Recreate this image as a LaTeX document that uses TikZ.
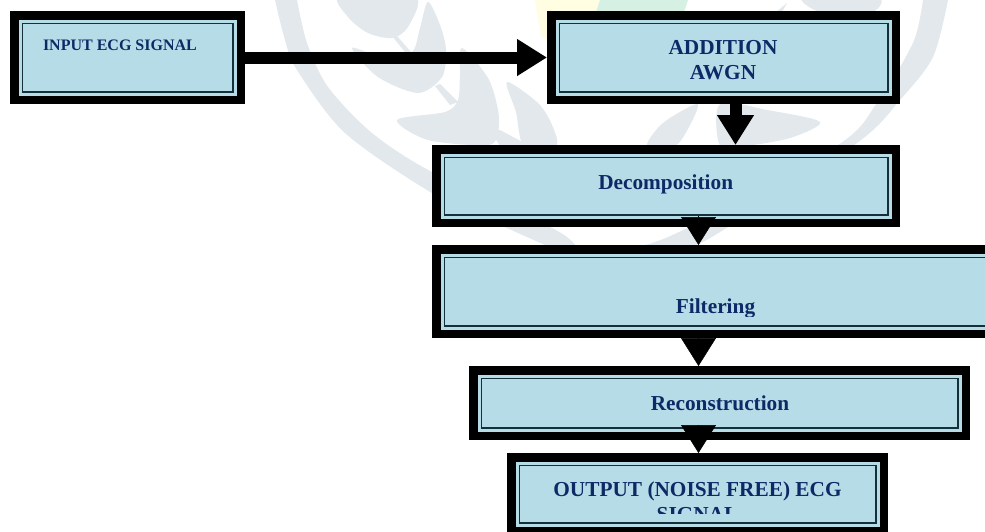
\documentclass[tikz,border=0pt]{standalone}
\usepackage{fontspec}
\setmainfont{Liberation Serif}
\usetikzlibrary{arrows.meta}
\definecolor{boxblue}{HTML}{B6DCE8}
\definecolor{lineink}{HTML}{14303A}
\definecolor{navyink}{HTML}{0E2A66}
\definecolor{markgrey}{HTML}{E2E8EC}
\definecolor{markyellow}{HTML}{FFFDE2}
\definecolor{markgreen}{HTML}{D6F0E4}
\tikzset{
  ecgbox/.style={rectangle,fill=black,inner sep=0pt,outer sep=0pt,
    path picture={
      \fill[boxblue] ([shift={(8.5pt,8.5pt)}]path picture bounding box.south west)
        rectangle ([shift={(-8.5pt,-8.5pt)}]path picture bounding box.north east);
      \draw[lineink,line width=1.8pt] ([shift={(12.4pt,12.4pt)}]path picture bounding box.south west)
        rectangle ([shift={(-12.4pt,-12.4pt)}]path picture bounding box.north east);
    }},
  ecgtext/.style={text=navyink,inner sep=0pt,outer sep=0pt,font=\bfseries\fontsize{21.3pt}{25pt}\selectfont,align=center},
  smalltext/.style={text=navyink,inner sep=0pt,outer sep=0pt,font=\bfseries\fontsize{16pt}{19pt}\selectfont},
  flow/.style={line width=12pt,-{Triangle[length=30pt,width=35pt]}},
  headflow/.style={line width=0.5pt,-{Triangle[length=28pt,width=35pt]}},
  wmark/.style={fill=markgrey,draw=none}
}
\begin{document}
\begin{tikzpicture}[x=1pt,y=-1pt]
\useasboundingbox (0,0) rectangle (985,531);
\clip (0,0) rectangle (985,531);
\fill[white] (0,0) rectangle (985,531);
% watermark
\fill[markyellow] (535,0) -- (600,0) -- (596,12) -- (548,40) -- (541,36) -- cycle;
\fill[markgreen] (600,0) -- (688,0) -- (684,12) -- (596,12) -- cycle;
% rings
\fill[wmark] plot[smooth] coordinates {(275,0) (285,40) (297,70) (345,133) (432,193) (507,228) (545,245)}
   -- plot[smooth] coordinates {(575,245) (552,228) (432,172) (372,133) (328,87) (307,43) (297,0)} -- cycle;
\fill[wmark] plot[smooth] coordinates {(948,0) (933,57) (900,100) (857,143) (720,232) (695,245)}
   -- plot[smooth] coordinates {(645,245) (687,228) (838,145) (877,103) (913,43) (923,0)} -- cycle;
% leaves, left
\fill[wmark] plot[smooth cycle] coordinates {(340,-4) (415,-4) (408,27) (392,38) (368,33) (348,17)};
\fill[wmark] plot[smooth cycle] coordinates {(428,2) (440,25) (446,50) (442,77) (418,93) (378,77) (352,48) (385,58) (412,52) (420,28)};
\fill[wmark] plot[smooth cycle] coordinates {(462,48) (488,78) (498,110) (498,132) (488,145) (428,140) (397,120) (445,112) (458,100) (460,75)};
\fill[wmark] (392,36) -- (397,36) -- (411,52) -- (405,52) -- cycle;
\fill[wmark] (435,86) -- (440,84) -- (458,102) -- (450,105) -- cycle;
\fill[wmark] plot[smooth cycle] coordinates {(507,82) (538,103) (552,125) (556,146) (524,146) (516,112)};
\fill[wmark] (490,130) -- (500,130) -- (530,146) -- (500,146) -- cycle;
% leaves, centre and right
\fill[wmark] plot[smooth cycle] coordinates {(647,146) (663,123) (697,104) (690,125) (675,146)};
\fill[wmark] plot[smooth cycle] coordinates {(720,104) (767,110) (820,122) (790,138) (745,146) (720,146)};
\fill[wmark] plot[smooth cycle] coordinates {(803,-4) (877,-4) (872,12) (820,12)};
\fill[wmark] (787,3) -- (782,12) -- (776,12) -- cycle;
% boxes
\node[ecgbox,minimum width=235pt,minimum height=93pt] (input) at (127.5,57.5) {};
\node[ecgbox,minimum width=353pt,minimum height=93pt] (addition) at (723.5,57.5) {};
\node[ecgbox,minimum width=468pt,minimum height=82pt] (decomp) at (666,186) {};
\node[ecgbox,minimum width=578pt,minimum height=93pt] (filter) at (721,291.5) {};
\node[ecgbox,minimum width=501pt,minimum height=74pt] (recon) at (719.5,403) {};
\node[ecgbox,minimum width=381pt,minimum height=82pt] (output) at (697.5,494) {};
% texts
\node[smalltext,anchor=base west] (inputtext) at (43,50.7) {INPUT ECG SIGNAL};
\node[ecgtext] (additiontext) at (723,59.8) {ADDITION\\AWGN};
\node[ecgtext,anchor=base] (decomptext) at (665.7,189) {Decomposition};
\begin{scope}
  \clip (432,250) rectangle (985,316);
  \node[ecgtext,anchor=base] (filtertext) at (715.5,313) {Filtering};
\end{scope}
\node[ecgtext,anchor=base] (recontext) at (720,410) {Reconstruction};
\begin{scope}
  \clip (507,460) rectangle (888,513);
  \node[ecgtext] (outputtext) at (697.5,502) {OUTPUT (NOISE FREE) ECG\\SIGNAL};
\end{scope}
% connectors
\coordinate (ax) at (735.5,0);
\coordinate (bx) at (698.5,0);
\coordinate (dstart) at (698.5,216);
\coordinate (rstart) at (698.5,426);
\draw[flow] (input.east) -- (addition.west);
\draw[flow] (addition.south -| ax) -- (decomp.north -| ax);
\draw[headflow] (dstart) -- (filter.north -| bx);
\draw[headflow] (filter.south -| bx) -- (recon.north -| bx);
\draw[headflow] (rstart) -- (output.north -| bx);
\end{tikzpicture}
\end{document}
